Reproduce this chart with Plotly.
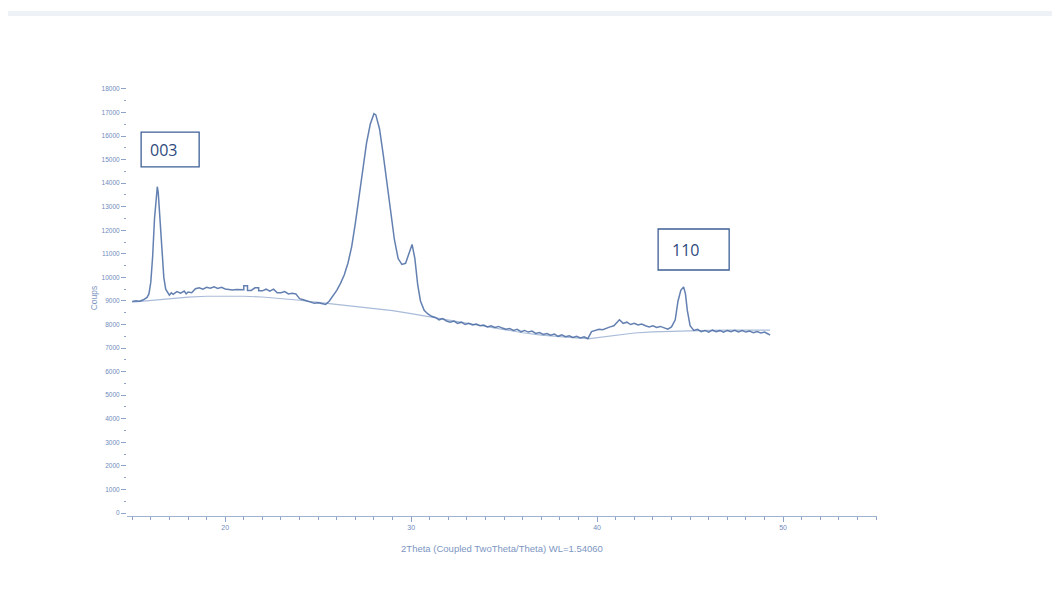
import plotly.graph_objects as go

# Measured XRD pattern (2theta in degrees, counts)
two_theta = [15.0, 15.2, 15.4, 15.6, 15.8, 15.9, 16.0, 16.1, 16.2, 16.3, 16.35, 16.4, 16.5, 16.6, 16.7, 16.8, 16.9,
             17.0, 17.1, 17.2, 17.4, 17.6, 17.8, 17.9, 18.0, 18.2, 18.4, 18.6, 18.8, 19.0, 19.2, 19.4, 19.6, 19.8,
             20.0, 20.2, 20.4, 20.6, 20.8, 21.0, 21.0, 21.2, 21.2, 21.4, 21.6, 21.8, 21.8, 22.0, 22.2, 22.4, 22.6,
             22.8, 23.0, 23.2, 23.4, 23.6, 23.8, 24.0, 24.2, 24.4, 24.6, 24.8, 25.0, 25.2, 25.4, 25.6, 25.8, 26.0,
             26.2, 26.4, 26.6, 26.8, 27.0, 27.2, 27.4, 27.6, 27.8, 28.0, 28.1, 28.3, 28.5, 28.7, 28.9, 29.1, 29.3,
             29.5, 29.7, 29.9, 30.05, 30.2, 30.35, 30.5, 30.7, 30.9, 31.1, 31.3, 31.5, 31.7, 31.9, 32.1, 32.3, 32.5,
             32.7, 32.9, 33.1, 33.3, 33.5, 33.7, 33.9, 34.1, 34.3, 34.5, 34.7, 34.9, 35.1, 35.3, 35.5, 35.7, 35.9,
             36.1, 36.3, 36.5, 36.7, 36.9, 37.1, 37.3, 37.5, 37.7, 37.9, 38.1, 38.3, 38.5, 38.7, 38.9, 39.1, 39.3,
             39.5, 39.7, 39.9, 40.1, 40.3, 40.5, 40.7, 40.9, 41.1, 41.2, 41.4, 41.6, 41.8, 42.0, 42.2, 42.4, 42.6,
             42.8, 43.0, 43.2, 43.4, 43.6, 43.8, 44.0, 44.2, 44.35, 44.5, 44.65, 44.75, 44.85, 45.0, 45.2, 45.4,
             45.6, 45.8, 46.0, 46.2, 46.4, 46.6, 46.8, 47.0, 47.2, 47.4, 47.6, 47.8, 48.0, 48.2, 48.4, 48.6, 48.8,
             49.0, 49.2, 49.3]
counts = [8980, 9010, 8990, 9050, 9150, 9300, 9800, 10900, 12500, 13700, 13850, 13600, 12400, 11000, 10000, 9500, 9350,
          9250, 9350, 9280, 9400, 9330, 9420, 9300, 9380, 9350, 9520, 9560, 9500, 9580, 9540, 9600, 9530, 9580,
          9510, 9480, 9470, 9490, 9470, 9480, 9650, 9650, 9450, 9450, 9560, 9560, 9430, 9430, 9500, 9420, 9500,
          9350, 9350, 9400, 9300, 9330, 9300, 9100, 9050, 9000, 8950, 8900, 8920, 8880, 8850, 9000, 9200, 9450,
          9750, 10100, 10600, 11300, 12300, 13500, 14700, 15700, 16500, 16950, 16900, 16300, 15200, 14000, 12800, 11600, 10800,
          10550, 10600, 11100, 11400, 10800, 9700, 9000, 8600, 8450, 8350, 8300, 8200, 8250, 8150, 8100, 8150, 8050,
          8100, 8000, 8050, 7980, 8020, 7950, 7980, 7900, 7950, 7880, 7920, 7850, 7800, 7830, 7750, 7800, 7700,
          7750, 7680, 7720, 7620, 7660, 7580, 7620, 7550, 7600, 7500, 7560, 7480, 7520, 7450, 7500, 7430, 7480,
          7400, 7700, 7750, 7800, 7780, 7850, 7900, 7950, 8100, 8200, 8050, 8100, 8000, 8050, 7980, 8020, 7950,
          7900, 7950, 7880, 7920, 7850, 7800, 7900, 8200, 9000, 9450, 9600, 9300, 8600, 7950, 7750, 7800,
          7700, 7750, 7680, 7760, 7700, 7740, 7680, 7750, 7700, 7760, 7690, 7740, 7680, 7720, 7650, 7700, 7640,
          7680, 7600, 7550]

# Fitted background
bg_theta = [15.0, 16.0, 17.0, 18.0, 19.0, 20.0, 21.0, 22.0, 23.0, 24.0, 25.0, 26.0, 27.0, 28.0, 29.0, 30.0, 31.0,
            32.0, 33.0, 34.0, 35.0, 36.0, 37.0, 38.0, 39.0, 39.6, 40.0, 41.0, 42.0, 43.0, 44.0, 45.0, 46.0, 47.0,
            48.0, 49.3]
bg_counts = [8950, 9020, 9100, 9160, 9200, 9210, 9200, 9170, 9110, 9030, 8940, 8860, 8780, 8700, 8590, 8460, 8320,
             8180, 8040, 7900, 7770, 7650, 7550, 7470, 7420, 7400, 7440, 7560, 7640, 7690, 7720, 7740, 7750, 7760,
             7760, 7760]

y_ticks = list(range(0, 18001, 1000))
x_ticks = [20, 30, 40, 50]

# Peak labels (Miller indices)
peak_labels = ["003", "110"]

tick_color = "#6f8bbb"
font_family = "Liberation Sans, Arial, sans-serif"
box_color = "#3d5f97"
label_font = dict(family="Open Sans, sans-serif", size=16, color="#2e4a7d")

fig = go.Figure()
fig.add_trace(go.Scatter(x=bg_theta, y=bg_counts, mode="lines", line=dict(color="rgba(160,180,212,0.9)", width=1.2),
                         hoverinfo="skip", showlegend=False))
fig.add_trace(go.Scatter(x=two_theta, y=counts, mode="lines", line=dict(color="rgba(72,106,163,0.85)", width=1.5),
                         showlegend=False))

fig.update_layout(
    width=1044, height=591,
    margin=dict(l=119, r=175, t=72, b=83),
    paper_bgcolor="white", plot_bgcolor="white",
    font=dict(family=font_family, color=tick_color),
    xaxis=dict(range=[14.72, 55.05], tickvals=x_ticks, ticktext=[str(v) for v in x_ticks],
               showgrid=False, zeroline=False, showline=True, linecolor="#9fb2d2", linewidth=1,
               ticks="outside", ticklen=5, tickcolor="#8ea3c8", tickfont=dict(size=7, color=tick_color),
               minor=dict(dtick=1, tick0=15, ticks="outside", ticklen=3, tickcolor="#8ea3c8", showgrid=False),
               title=dict(text="2Theta (Coupled TwoTheta/Theta) WL=1.54060", font=dict(size=9.5, color="#7d96c2"),
                          standoff=14)),
    yaxis=dict(range=[-127, 18380], tickvals=y_ticks, ticktext=[str(v) for v in y_ticks],
               showgrid=False, zeroline=False, showline=False,
               ticks="outside", ticklen=5, tickcolor="#8ea3c8", tickfont=dict(size=6.5, color=tick_color),
               minor=dict(dtick=500, ticks="outside", ticklen=2, tickcolor="#8ea3c8", showgrid=False),
               title=dict(text="Coups", font=dict(size=8.5, color="#7d96c2"), standoff=2)),
    shapes=[
        dict(type="rect", xref="paper", yref="paper", x0=-0.164, x1=1.244, y0=1.147, y1=1.158,
             fillcolor="#eef2f7", line=dict(width=0), layer="below"),
        dict(type="rect", xref="x", yref="y", x0=15.48, x1=18.6, y0=14690, y1=16170,
             line=dict(color=box_color, width=1.3), fillcolor="rgba(0,0,0,0)"),
        dict(type="rect", xref="x", yref="y", x0=43.28, x1=47.1, y0=10314, y1=12055,
             line=dict(color=box_color, width=1.3), fillcolor="rgba(0,0,0,0)"),
    ],
    annotations=[
        dict(x=15.85, y=15430, xref="x", yref="y", text=peak_labels[0], showarrow=False,
             xanchor="left", yanchor="middle", font=label_font),
        dict(x=43.9, y=11180, xref="x", yref="y", text=peak_labels[1], showarrow=False,
             xanchor="left", yanchor="middle", font=label_font),
    ],
)

fig.write_html("out.html")
